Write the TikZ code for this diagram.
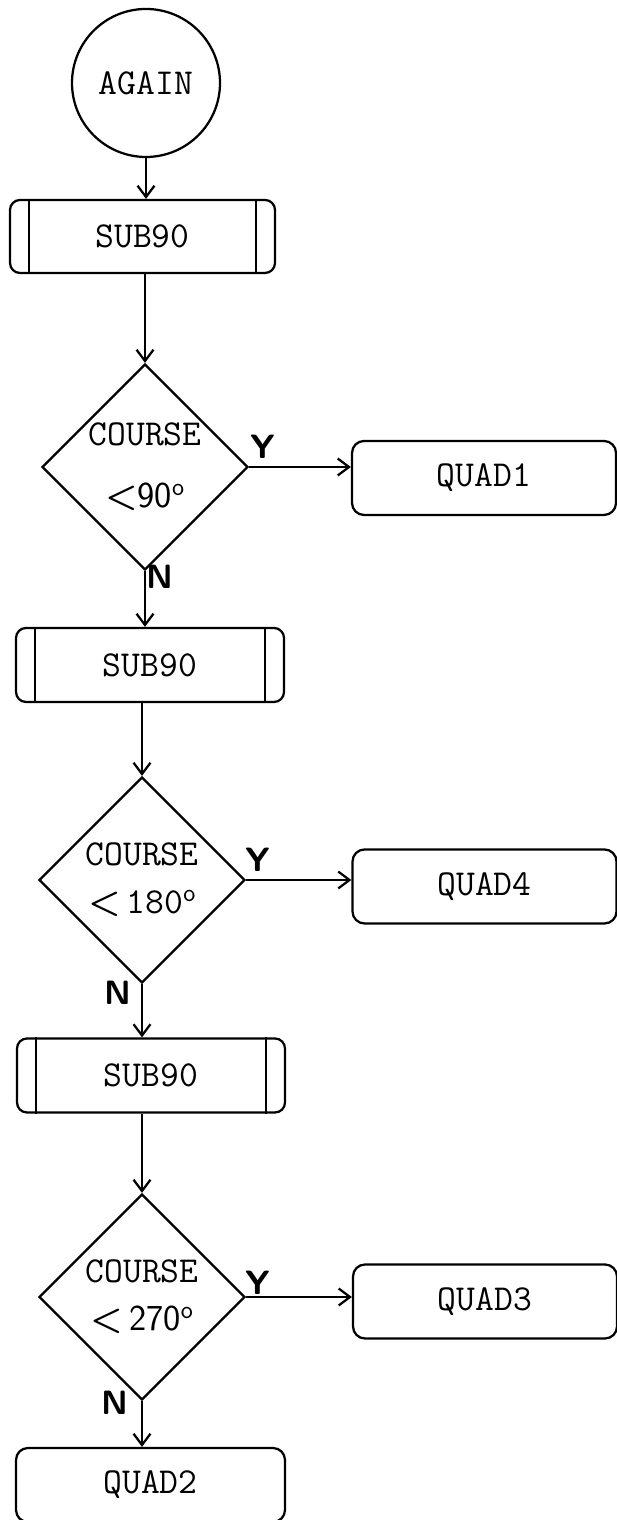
\documentclass[tikz,border=0pt]{standalone}
\usepackage{amsmath}
\usetikzlibrary{shapes.geometric,arrows.meta}

\begin{document}
\begin{tikzpicture}[
  every node/.style={font=\fontsize{26}{34}\selectfont\ttfamily},
  >={Straight Barb[length=8pt,width=12pt]},
  line width=1.6pt,
  subbox/.style={draw, rectangle, rounded corners=0.25cm, minimum width=6.7cm, minimum height=1.85cm},
  quadbox/.style={draw, rectangle, rounded corners=0.3cm, minimum width=6.6cm, minimum height=1.85cm},
  decision/.style={draw, diamond, aspect=1, minimum size=5.15cm, inner sep=0pt, align=center},
  yn/.style={font=\fontsize{24}{28}\selectfont\sffamily\bfseries}
]

  % Page
  \useasboundingbox (0,0) rectangle (15.425,38);

  % Start: AGAIN
  \node[circle, draw, minimum size=3.7cm, inner sep=0pt] (again) at (3.65,35.925) {AGAIN};

  % First subtraction and test
  \node[subbox, minimum width=6.625cm, minimum height=1.825cm] (sub1) at (3.5625,32.0875) {SUB90};
  \node[decision] (crs1) at (3.625,26.325) {COURSE\\[10pt]{\sffamily\bfseries<}{\sffamily 90\textsuperscript{o}}};
  \node[quadbox] (quad1) at (12.1,26.05) {QUAD1};
  \node[yn] (y1) at (6.575,26.825) {Y};
  \node[yn] (n1) at (4.0,23.575) {N};

  % Second subtraction and test
  \node[subbox] (sub2) at (3.75,21.375) {SUB90};
  \node[decision] (crs2) at (3.55,16.0) {COURSE\\{\sffamily\bfseries<}\,180{\sffamily\textsuperscript{o}}};
  \node[quadbox] (quad4) at (12.1125,15.8375) {QUAD4};
  \node[yn] (y2) at (6.45,16.5) {Y};
  \node[yn] (n2) at (2.95,13.175) {N};

  % Third subtraction and test
  \node[subbox] (sub3) at (3.775,11.1125) {SUB90};
  \node[decision] (crs3) at (3.55,5.575) {COURSE\\{\sffamily\bfseries<}\,{\sffamily 270\textsuperscript{o}}};
  \node[quadbox] (quad3) at (12.125,5.4625) {QUAD3};
  \node[yn] (y3) at (6.45,5.925) {Y};
  \node[yn] (n3) at (2.875,2.925) {N};

  % Last exit
  \node[quadbox, minimum width=6.725cm] (quad2) at (3.7625,0.875) {QUAD2};

  % Side bars of the subroutine boxes
  \foreach \s in {sub1,sub2,sub3} {
    \draw ([xshift=0.5cm]\s.north west) -- ([xshift=0.5cm]\s.south west);
    \draw ([xshift=-0.5cm]\s.north east) -- ([xshift=-0.5cm]\s.south east);
  }

  % Main flow
  \draw[->] (again) -- (again |- sub1.north);
  \draw[->] (crs1.north |- sub1.south) -- (crs1.north);
  \draw[->] (crs1.south) -- (crs1.south |- sub2.north);
  \draw[->] (crs2.north |- sub2.south) -- (crs2.north);
  \draw[->] (crs2.south) -- (crs2.south |- sub3.north);
  \draw[->] (crs3.north |- sub3.south) -- (crs3.north);
  \draw[->] (crs3.south) -- (crs3.south |- quad2.north);

  % Yes branches
  \draw[->] (crs1.east) -- (crs1.east -| quad1.west);
  \draw[->] (crs2.east) -- (crs2.east -| quad4.west);
  \draw[->] (crs3.east) -- (crs3.east -| quad3.west);

\end{tikzpicture}
\end{document}
